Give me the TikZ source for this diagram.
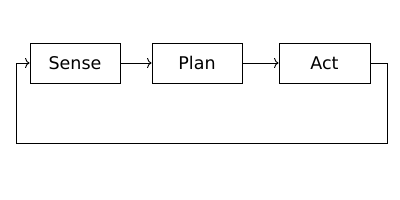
\documentclass[tikz,border=0pt]{standalone}
\usepackage{fontspec}
\setmainfont{DejaVu Sans}
\usetikzlibrary{arrows.meta}
\begin{document}
\begin{tikzpicture}[x=1pt,y=1pt,
  blk/.style={draw,line width=0.9pt,minimum width=90pt,minimum height=40pt,inner sep=0pt,font=\fontsize{17.5}{20}\selectfont},
  conn/.style={line width=0.9pt,-{To[length=4.5pt,width=10pt]}},
  line/.style={line width=0.9pt}]
\useasboundingbox (0,0) rectangle (400,200);
\node[blk] (sense) at (75,137) {Sense};
\node[blk] (plan) at (197,137) {Plan};
\node[blk,minimum width=91pt] (act) at (324.5,137) {Act};
\coordinate (r) at (387,137);
\coordinate (rb) at (387,57);
\coordinate (lb) at (16,57);
\coordinate (l) at (16,137);
\draw[conn] (sense) -- (plan);
\draw[conn] (plan) -- (act);
\draw[line] (act.east) -- (r) -- (rb) -- (lb) -- (l);
\draw[conn] (l) -- (sense.west);
\end{tikzpicture}
\end{document}
